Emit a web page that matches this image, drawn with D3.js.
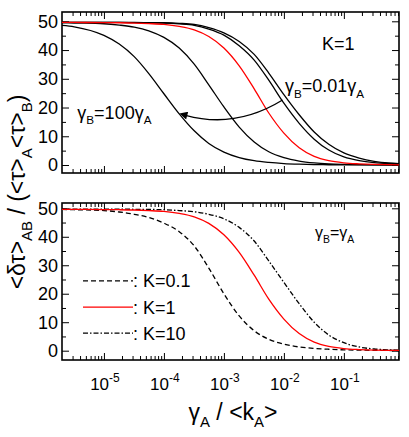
<!DOCTYPE html>
<html>
<head>
<meta charset="utf-8">
<script src="https://cdn.jsdelivr.net/npm/d3@7"></script>
<style>
  body { margin: 0; background: #fff; }
  text { font-family: "Liberation Sans", Arial, Helvetica, sans-serif; fill: #000; }
</style>
</head>
<body>
<svg id="chart" width="409" height="437"></svg>
<script>
// gamma_A / <k_A> sample points (quarter decades)
var gammaRatio = [2e-6, 3.2e-6, 1e-5, 1.8e-5, 3.2e-5, 5.6e-5, 1e-4, 1.8e-4, 3.2e-4, 5.6e-4,
  1e-3, 1.8e-3, 3.2e-3, 5.6e-3, 1e-2, 1.8e-2, 3.2e-2, 5.6e-2, 0.1, 0.18, 0.32, 0.56, 0.83];

// top panel, K=1, different gamma_B
var gB100 = [48.6, 48.1, 45.1, 42.1, 37.7, 31.8, 24.8, 17.8, 11.9, 7.5, 4.5, 2.6, 1.5, 0.9, 0.5, 0.28, 0.16, 0.09, 0.05, 0.03, 0.02, 0.01, 0.01];
var gB10 = [49.5, 49.4, 49.15, 48.7, 48.0, 46.7, 44.4, 40.7, 35.1, 27.9, 20.2, 13.2, 8.0, 4.6, 2.56, 1.39, 0.75, 0.4, 0.22, 0.12, 0.06, 0.03, 0.02];
var gBeq = [49.6, 49.6, 49.55, 49.5, 49.4, 49.2, 48.9, 48.2, 47.0, 44.7, 40.7, 34.5, 26.5, 18.1, 11.1, 6.0, 3.0, 1.5, 0.75, 0.4, 0.2, 0.1, 0.08];
var gB01 = [49.6, 49.6, 49.6, 49.6, 49.55, 49.5, 49.4, 49.1, 48.6, 47.3, 45.2, 41.5, 36.5, 29.5, 21.5, 14.5, 9.0, 5.2, 2.8, 1.5, 0.8, 0.45, 0.3];
var gB001 = [49.6, 49.6, 49.6, 49.6, 49.6, 49.55, 49.5, 49.3, 48.9, 47.8, 46.0, 43.0, 38.5, 32.0, 24.5, 17.5, 11.5, 7.2, 4.2, 2.4, 1.3, 0.7, 0.5];

// bottom panel, gamma_B = gamma_A, different K
var k01 = [49.6, 49.5, 49.2, 48.7, 47.9, 46.8, 44.8, 41.8, 36.8, 29.0, 20.0, 12.2, 7.0, 4.0, 2.3, 1.3, 0.8, 0.5, 0.3, 0.2, 0.12, 0.08, 0.05];
var k1 = gBeq;
var k10 = [49.7, 49.7, 49.7, 49.7, 49.65, 49.6, 49.5, 49.2, 48.8, 47.9, 46.3, 43.3, 38.5, 31.5, 24.0, 16.5, 10.0, 5.5, 2.8, 1.3, 0.6, 0.3, 0.2];

var yTicks = [0, 10, 20, 30, 40, 50];
var yMinor = [5, 15, 25, 35, 45];
var xExponents = [-5, -4, -3, -2, -1];
var legendLabels = [": K=0.1", ": K=1", ": K=10"];

var svg = d3.select('#chart');

var x = d3.scaleLog().domain([2e-6, 0.83]).range([62, 399]);
var yTop = d3.scaleLinear().domain([-2.78, 53.24]).range([173, 12]);
var yBot = d3.scaleLinear().domain([-3.27, 51.86]).range([360, 203]);

var xMajor = [1e-5, 1e-4, 1e-3, 1e-2, 1e-1];
var xMinor = [];
[-6, -5, -4, -3, -2, -1].forEach(function(e) {
  for (var m = 2; m <= 9; m++) {
    var v = m * Math.pow(10, e);
    if (v > 2e-6 && v < 0.83) xMinor.push(v);
  }
});

function drawFrame(y) {
  var x0 = x.range()[0], x1 = x.range()[1];
  var yb = y.range()[0], yt = y.range()[1];
  var g = svg.append('g');

  function ticks(axis, tx, ty, vals, len) {
    g.append('g')
      .attr('transform', 'translate(' + tx + ',' + ty + ')')
      .call(axis.tickValues(vals).tickSize(-len).tickFormat(''))
      .call(function(s) { s.select('.domain').remove(); })
      .selectAll('line').attr('stroke', '#000').attr('stroke-width', 1);
  }
  ticks(d3.axisBottom(x), 0, yb, xMajor, 7);
  ticks(d3.axisBottom(x), 0, yb, xMinor, 4);
  ticks(d3.axisTop(x), 0, yt, xMajor, 7);
  ticks(d3.axisTop(x), 0, yt, xMinor, 4);
  ticks(d3.axisLeft(y), x0, 0, yTicks, 7);
  ticks(d3.axisLeft(y), x0, 0, yMinor, 4);
  ticks(d3.axisRight(y), x1, 0, yTicks, 7);
  ticks(d3.axisRight(y), x1, 0, yMinor, 4);

  g.append('rect')
    .attr('x', x0).attr('y', yt)
    .attr('width', x1 - x0).attr('height', yb - yt)
    .attr('fill', 'none').attr('stroke', '#000').attr('stroke-width', 1.6);

  // y tick labels
  g.selectAll('text.ylab').data(yTicks).enter().append('text')
    .attr('class', 'ylab')
    .attr('x', x0 - 4)
    .attr('y', function(d) { return y(d); })
    .attr('dy', '0.35em')
    .attr('text-anchor', 'end')
    .attr('font-size', 18)
    .text(function(d) { return d; });
}

function curve(y, vals, color, dash) {
  var line = d3.line()
    .x(function(d, i) { return x(gammaRatio[i]); })
    .y(function(d) { return y(d); })
    .curve(d3.curveMonotoneX);
  svg.append('path')
    .datum(vals)
    .attr('d', line)
    .attr('fill', 'none')
    .attr('stroke', color)
    .attr('stroke-width', 1.3)
    .attr('stroke-dasharray', dash || null);
}

// ---- top panel
drawFrame(yTop);
[gB100, gB10, gB01, gB001].forEach(function(s) { curve(yTop, s, '#000'); });
curve(yTop, gBeq, '#ff0000');

// arrow from gamma_B=0.01 to gamma_B=100
var arrowPts = [[9.5e-3, 22.6], [1.55e-3, 12.5], [2.3e-4, 17.3]];
svg.append('defs').append('marker')
  .attr('id', 'head')
  .attr('viewBox', '0 0 10 10')
  .attr('refX', 2).attr('refY', 5)
  .attr('markerWidth', 10).attr('markerHeight', 8)
  .attr('markerUnits', 'userSpaceOnUse')
  .attr('orient', 'auto')
  .append('path').attr('d', 'M0,0L10,5L0,10Z').attr('fill', '#000');
var ap = arrowPts.map(function(p) { return [x(p[0]), yTop(p[1])]; });
svg.append('path')
  .attr('d', 'M' + ap[0] + 'Q' + ap[1] + ' ' + ap[2])
  .attr('fill', 'none').attr('stroke', '#000').attr('stroke-width', 1.3)
  .attr('marker-end', 'url(#head)');

function label(px, py, parts, size) {
  var t = svg.append('text').attr('x', px).attr('y', py).attr('font-size', size);
  var shift = 0;
  parts.forEach(function(p) {
    var sub = p[1] === 'sub', sup = p[1] === 'sup';
    var want = sub ? size * 0.3 : (sup ? -size * 0.45 : 0);
    t.append('tspan')
      .attr('dy', want - shift)
      .attr('font-size', (sub || sup) ? size * 0.65 : size)
      .text(p[0]);
    shift = want;
  });
  return t;
}

label(x(0.043), yTop(40), [['K=1']], 18);
label(x(0.0104), yTop(25.3), [['\u03b3'], ['B', 'sub'], ['=0.01\u03b3'], ['A', 'sub']], 18);
label(x(3.6e-6), yTop(16), [['\u03b3'], ['B', 'sub'], ['=100\u03b3'], ['A', 'sub']], 18);

// ---- bottom panel
drawFrame(yBot);
curve(yBot, k01, '#000', '5,3');
curve(yBot, k10, '#000', '5,2,1.5,2');
curve(yBot, k1, '#ff0000');

label(x(0.033), yBot(39.5), [['\u03b3'], ['B', 'sub'], ['=\u03b3'], ['A', 'sub']], 16);

// legend
var legendStyles = [['#000', '5,3'], ['#ff0000', null], ['#000', '5,2,1.5,2']];
var legendY = [24.5, 15.3, 6.2];
legendLabels.forEach(function(lab, i) {
  var yy = yBot(legendY[i]);
  svg.append('line')
    .attr('x1', 83).attr('x2', 133).attr('y1', yy).attr('y2', yy)
    .attr('stroke', legendStyles[i][0]).attr('stroke-width', 1.3)
    .attr('stroke-dasharray', legendStyles[i][1]);
  svg.append('text').attr('x', 133).attr('y', yy + 6.5)
    .attr('font-size', 18).text(lab);
});

// x tick labels 10^n
xExponents.forEach(function(e) {
  var t = svg.append('text')
    .attr('x', x(Math.pow(10, e)) + 1)
    .attr('y', 390)
    .attr('text-anchor', 'middle')
    .attr('font-size', 17);
  t.append('tspan').text('10');
  t.append('tspan').attr('dy', -8).attr('font-size', 12).text('-' + (-e));
});

// axis titles
label(0, 0, [['\u03b3'], ['A', 'sub'], [' / <k'], ['A', 'sub'], ['>']], 23)
  .attr('x', null).attr('y', null)
  .attr('text-anchor', 'middle')
  .attr('transform', 'translate(233,420)');

label(0, 0, [['<\u03b4\u03c4>'], ['AB', 'sub'], [' / (<\u03c4>'], ['A', 'sub'], ['<\u03c4>'], ['B', 'sub'], [')']], 23)
  .attr('x', null).attr('y', null)
  .attr('text-anchor', 'middle')
  .attr('transform', 'translate(25,192) rotate(-90)');
</script>
</body>
</html>
